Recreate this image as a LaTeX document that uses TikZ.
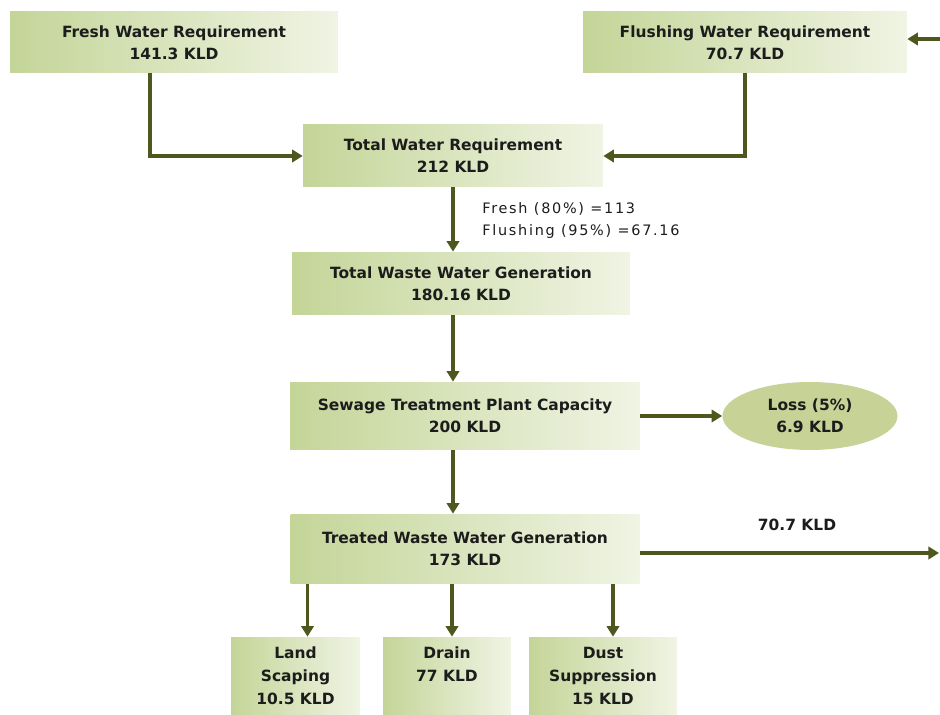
\documentclass[tikz,border=0pt]{standalone}
\usepackage{fontspec}
\setmainfont{DejaVu Sans}
\newfontfamily\notefont[LetterSpace=12]{DejaVu Sans}
\usepackage{tikz}
\usetikzlibrary{positioning,arrows.meta,shapes.geometric,calc}
\definecolor{boxgreen}{RGB}{196,213,152}
\definecolor{boxlight}{RGB}{240,244,228}
\definecolor{lossgreen}{RGB}{198,210,150}
\definecolor{arrowolive}{RGB}{78,88,30}
\definecolor{textdark}{RGB}{28,28,28}
\begin{document}
\begin{tikzpicture}[x=0.02cm, y=-0.02cm,
  flowbox/.style={shape=rectangle, left color=boxgreen, right color=boxlight, inner sep=0pt, align=center, text=textdark, font=\bfseries\fontsize{8.8}{12.5}\selectfont},
  lossnode/.style={shape=ellipse, fill=lossgreen, inner sep=0pt, align=center, text=textdark, font=\bfseries\fontsize{8.8}{12.5}\selectfont},
  flowarrow/.style={draw=arrowolive, line width=2pt, -{Triangle[length=6pt,width=7pt]}},
  notetext/.style={align=left, inner sep=0pt, text=textdark, font=\notefont\fontsize{8.2}{12.5}\selectfont},
  ]
  \useasboundingbox (0,0) rectangle (940,715);
  \node[flowbox, minimum width=6.56cm, minimum height=1.22cm] (fresh) at (174,42.5) {Fresh Water Requirement\\141.3 KLD};
  \node[flowbox, minimum width=6.48cm, minimum height=1.22cm] (flushing) at (745,42.5) {Flushing Water Requirement\\70.7 KLD};
  \node[flowbox, minimum width=6.0cm, minimum height=1.24cm] (total) at (453,156) {Total Water Requirement\\212 KLD};
  \node[flowbox, minimum width=6.76cm, minimum height=1.26cm] (waste) at (461,283.5) {Total Waste Water Generation\\180.16 KLD};
  \node[flowbox, minimum width=7.0cm, minimum height=1.36cm] (stp) at (465,416) {Sewage Treatment Plant Capacity\\200 KLD};
  \node[lossnode, minimum width=3.5cm, minimum height=1.36cm] (loss) at (810,416) {Loss (5\%)\\6.9 KLD};
  \node[flowbox, minimum width=6.98cm, minimum height=1.4cm] (treated) at (465,549) {Treated Waste Water Generation\\173 KLD};
  \node[flowbox, minimum width=2.58cm, minimum height=1.56cm, font=\bfseries\fontsize{8.8}{13.2}\selectfont] (land) at (295.5,676) {Land\\Scaping\\10.5 KLD};
  \node[flowbox, minimum width=2.56cm, minimum height=1.56cm, font=\bfseries\fontsize{8.8}{13.2}\selectfont] (drain) at (447,676) {Drain\\77 KLD\\\phantom{K}};
  \node[flowbox, minimum width=2.96cm, minimum height=1.56cm, font=\bfseries\fontsize{8.8}{13.2}\selectfont] (dust) at (603,676) {Dust\\Suppression\\15 KLD};
  \node[notetext, anchor=west] (split) at (482,221) {Fresh (80\%) =113\\Flushing (95\%) =67.16};
  \node[text=textdark, inner sep=0pt, font=\bfseries\fontsize{8.8}{12.5}\selectfont] (reuselabel) at (797,525) {70.7 KLD};
  \coordinate (recycle) at (940,39);
  \coordinate (reuse) at (939,553);
  \coordinate (freshout) at ([xshift=-0.48cm]fresh.south);
  \coordinate (landin) at ([xshift=0.24cm]land.north);
  \coordinate (drainin) at ([xshift=0.1cm]drain.north);
  \coordinate (dustin) at ([xshift=0.2cm]dust.north);

  \draw[flowarrow] (freshout) |- (total.west);
  \draw[flowarrow] (flushing.south) |- (total.east);
  \draw[flowarrow] (recycle) -- (flushing.east |- recycle);
  \draw[flowarrow] (total.south) -- (total.south |- waste.north);
  \draw[flowarrow] (waste.south -| total.south) -- (stp.north -| total.south);
  \draw[flowarrow] (stp.east) -- (loss.west);
  \draw[flowarrow] (stp.south -| total.south) -- (treated.north -| total.south);
  \draw[flowarrow] (treated.east |- reuse) -- (reuse);
  \draw[flowarrow] (treated.south -| landin) -- (landin);
  \draw[flowarrow] (treated.south -| drainin) -- (drainin);
  \draw[flowarrow] (treated.south -| dustin) -- (dustin);
\end{tikzpicture}
\end{document}
